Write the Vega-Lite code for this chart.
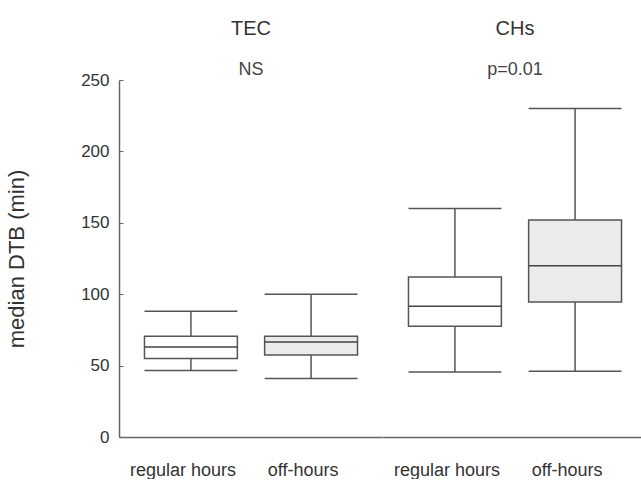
{
  "$schema": "https://vega.github.io/schema/vega-lite/v6.json",
  "padding": {"left": 5, "top": 19, "right": 0, "bottom": 0},
  "background": "white",
  "data": {
    "values": [
      {"group": "TEC", "period": "regular hours", "min": 46.5, "q1": 55, "median": 63, "q3": 70.5, "max": 88, "note": "NS"},
      {"group": "TEC", "period": "off-hours", "min": 41, "q1": 57.5, "median": 66.5, "q3": 70.5, "max": 100, "note": "NS"},
      {"group": "CHs", "period": "regular hours", "min": 45.5, "q1": 77.5, "median": 91.5, "q3": 112, "max": 160, "note": "p=0.01"},
      {"group": "CHs", "period": "off-hours", "min": 46, "q1": 94.5, "median": 120, "q3": 152, "max": 230, "note": "p=0.01"}
    ]
  },
  "facet": {
    "column": {
      "field": "group",
      "type": "nominal",
      "sort": ["TEC", "CHs"],
      "header": {
        "title": null,
        "labelFont": "Liberation Sans",
        "labelFontSize": 20,
        "labelColor": "#333333",
        "labelPadding": 22
      }
    }
  },
  "spacing": 0,
  "spec": {
    "width": 264,
    "height": 357,
    "layer": [
      {
        "mark": {"type": "rule", "color": "#555555", "strokeWidth": 1.5},
        "encoding": {
          "x": {
            "field": "period",
            "type": "nominal",
            "sort": ["regular hours", "off-hours"],
            "scale": {"paddingInner": 0.227, "paddingOuter": 0.212},
            "axis": {
              "title": null,
              "labelAngle": 0,
              "labelFont": "Liberation Sans",
              "labelFontSize": 18,
              "labelColor": "#333333",
              "labelPadding": 24,
              "labelOffset": -8,
              "ticks": false,
              "domainColor": "#666666",
              "domainWidth": 1.5
            }
          },
          "y": {
            "field": "min",
            "type": "quantitative",
            "scale": {"domain": [0, 250], "nice": false},
            "axis": {
              "title": "median DTB (min)",
              "titleFont": "Liberation Sans",
              "titleFontSize": 22,
              "titleFontWeight": "normal",
              "titleColor": "#333333",
              "titlePadding": 52,
              "values": [0, 50, 100, 150, 200, 250],
              "grid": false,
              "labelFont": "Liberation Sans",
              "labelFontSize": 17,
              "labelColor": "#333333",
              "labelPadding": 14,
              "tickSize": -4,
              "tickColor": "#666666",
              "domainColor": "#666666",
              "domainWidth": 1.5
            }
          },
          "y2": {"field": "max"}
        }
      },
      {
        "mark": {"type": "bar", "stroke": "#555555", "strokeWidth": 1.5},
        "encoding": {
          "x": {"field": "period", "type": "nominal", "sort": ["regular hours", "off-hours"]},
          "y": {"field": "q1", "type": "quantitative"},
          "y2": {"field": "q3"},
          "fill": {
            "field": "period",
            "type": "nominal",
            "scale": {"domain": ["regular hours", "off-hours"], "range": ["#ffffff", "#ebebeb"]},
            "legend": null
          }
        }
      },
      {
        "mark": {"type": "bar", "fill": null, "stroke": "#444444", "strokeWidth": 1.5},
        "encoding": {
          "x": {"field": "period", "type": "nominal", "sort": ["regular hours", "off-hours"]},
          "y": {"field": "median", "type": "quantitative"},
          "y2": {"field": "median"}
        }
      },
      {
        "mark": {"type": "bar", "fill": null, "stroke": "#555555", "strokeWidth": 1.5},
        "encoding": {
          "x": {"field": "period", "type": "nominal", "sort": ["regular hours", "off-hours"]},
          "y": {"field": "max", "type": "quantitative"},
          "y2": {"field": "max"}
        }
      },
      {
        "mark": {"type": "bar", "fill": null, "stroke": "#555555", "strokeWidth": 1.5},
        "encoding": {
          "x": {"field": "period", "type": "nominal", "sort": ["regular hours", "off-hours"]},
          "y": {"field": "min", "type": "quantitative"},
          "y2": {"field": "min"}
        }
      },
      {
        "transform": [{"filter": "datum.period === 'regular hours'"}],
        "mark": {"type": "text", "font": "Liberation Sans", "fontSize": 18, "color": "#444444", "baseline": "middle", "align": "center"},
        "encoding": {
          "y": {"datum": 257},
          "text": {"field": "note"}
        }
      }
    ]
  },
  "config": {
    "view": {"stroke": null},
    "axis": {"labelFont": "Liberation Sans"}
  }
}
